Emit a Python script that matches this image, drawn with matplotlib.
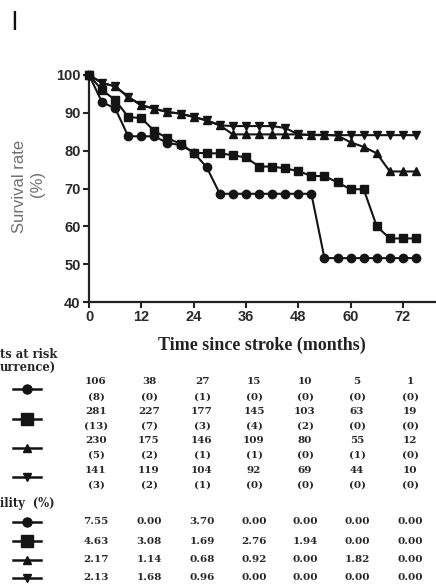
import matplotlib
matplotlib.use("Agg")
import matplotlib.pyplot as plt

# Follow-up grid (months) and survival (%) for the four groups
months = [0, 3, 6, 9, 12, 15, 18, 21, 24, 27, 30, 33, 36, 39, 42, 45, 48,
          51, 54, 57, 60, 63, 66, 69, 72, 75]
surv_circle = [100, 92.8, 91.2, 83.8, 83.8, 83.8, 82.0, 81.5, 79.5, 75.6,
               68.6, 68.6, 68.6, 68.6, 68.6, 68.6, 68.6, 68.6,
               51.6, 51.6, 51.6, 51.6, 51.6, 51.6, 51.6, 51.6]
surv_square = [100, 96.0, 93.4, 88.9, 88.6, 85.2, 83.3, 81.8, 79.5, 79.3,
               79.3, 78.8, 78.2, 75.8, 75.8, 75.3, 74.6, 73.3, 73.3, 71.6,
               69.8, 69.8, 60.0, 56.8, 56.8, 56.8]
surv_up = [100, 97.9, 97.0, 94.2, 92.0, 91.1, 90.2, 89.8, 88.9, 88.0,
           86.7, 84.3, 84.3, 84.3, 84.3, 84.3, 84.3, 84.2, 84.2, 84.0,
           82.2, 81.0, 79.3, 74.5, 74.5, 74.5]
surv_down = [100, 97.9, 97.0, 94.2, 92.0, 91.1, 90.2, 89.8, 88.9, 88.0,
             86.7, 86.5, 86.5, 86.5, 86.5, 86.0, 84.3, 84.1, 84.1, 84.1,
             84.1, 84.1, 84.1, 84.1, 84.1, 84.1]

x_ticks = [0, 12, 24, 36, 48, 60, 72]
y_ticks = [40, 50, 60, 70, 80, 90, 100]

# Numbers at risk (recurrences in brackets) and recurrence probability
risk_circle = ["106", "38", "27", "15", "10", "5", "1"]
rec_circle = ["(8)", "(0)", "(1)", "(0)", "(0)", "(0)", "(0)"]
risk_square = ["281", "227", "177", "145", "103", "63", "19"]
rec_square = ["(13)", "(7)", "(3)", "(4)", "(2)", "(0)", "(0)"]
risk_up = ["230", "175", "146", "109", "80", "55", "12"]
rec_up = ["(5)", "(2)", "(1)", "(1)", "(0)", "(1)", "(0)"]
risk_down = ["141", "119", "104", "92", "69", "44", "10"]
rec_down = ["(3)", "(2)", "(1)", "(0)", "(0)", "(0)", "(0)"]
prob_circle = ["7.55", "0.00", "3.70", "0.00", "0.00", "0.00", "0.00"]
prob_square = ["4.63", "3.08", "1.69", "2.76", "1.94", "0.00", "0.00"]
prob_up = ["2.17", "1.14", "0.68", "0.92", "0.00", "1.82", "0.00"]
prob_down = ["2.13", "1.68", "0.96", "0.00", "0.00", "0.00", "0.00"]

W, H = 436, 587
fig = plt.figure(figsize=(W / 100, H / 100), dpi=100)
fig.patch.set_facecolor("white")

INK = "#141414"
SANS = "Liberation Sans"
SERIF = "Liberation Serif"
TABLE_FONT = "DejaVu Serif"

# Overlay in pixel coordinates for the table and free text
ov = fig.add_axes([0, 0, 1, 1], zorder=0)
ov.set_xlim(0, W)
ov.set_ylim(H, 0)
ov.axis("off")
ov.patch.set_alpha(0)

# Main survival plot
px_per_month = 4.36
ax = fig.add_axes([89 / W, (H - 302) / H, (W - 89) / W, 227 / H], zorder=1)
ax.patch.set_alpha(0)
ax.set_xlim(0, (W - 89) / px_per_month)
ax.set_ylim(40, 100)

styles = [
    (surv_circle, "o", 6.0),
    (surv_square, "s", 5.6),
    (surv_up, "^", 5.2),
    (surv_down, "v", 5.2),
]
for vals, mk, ms in styles:
    ax.plot(months, vals, color=INK, lw=1.5, marker=mk, ms=ms,
            mfc=INK, mec=INK, clip_on=False, zorder=3)

for side in ("top", "right"):
    ax.spines[side].set_visible(False)
for side in ("left", "bottom"):
    ax.spines[side].set_linewidth(1.6)
    ax.spines[side].set_color("#222222")

ax.set_xticks(x_ticks)
ax.set_yticks(y_ticks)
ax.tick_params(direction="out", length=4, width=1.5, color="#222222",
               labelsize=10.5, pad=2, labelcolor="#2a2a2a")
for lab in ax.get_xticklabels() + ax.get_yticklabels():
    lab.set_fontfamily(SANS)
    lab.set_fontweight("bold")

# Axis titles
ov.text(262, 345, "Time since stroke (months)", ha="center", va="center",
        fontsize=13, fontweight="bold", family=SERIF, color="#222222")
ov.text(19, 186, "Survival rate", rotation=90, ha="center", va="center",
        fontsize=12, family=SANS, color="#707070")
ov.text(37, 184, "(%)", rotation=90, ha="center", va="center",
        fontsize=12, family=SANS, color="#707070")

# Panel letter
ov.text(14, 23, "l", ha="center", va="center", fontsize=19, family=SANS,
        color="#111111")

# Risk table
col_x = [96, 149, 202, 254, 305, 357, 410]
tkw = dict(ha="center", va="center", fontsize=7.5, fontweight="bold",
           family=TABLE_FONT, color="#262626")
hkw = dict(ha="left", va="center", fontsize=8.3, fontweight="bold",
           family=TABLE_FONT, color="#262626")

ov.text(0, 354, "ts at risk", **hkw)
ov.text(0, 368, "urrence)", **hkw)

risk_rows = [
    (risk_circle, rec_circle, "o", 6.5),
    (risk_square, rec_square, "s", 8.0),
    (risk_up, rec_up, "^", 5.2),
    (risk_down, rec_down, "v", 6.0),
]
row_y0, row_step = 382, 14.67
for i, (risk, rec, mk, ms) in enumerate(risk_rows):
    y_top = row_y0 + 2 * i * row_step
    y_bot = y_top + row_step
    for x, a, b in zip(col_x, risk, rec):
        ov.text(x, y_top, a, **tkw)
        ov.text(x, y_bot, b, **tkw)
    ym = (y_top + y_bot) / 2
    ov.plot([13, 41], [ym, ym], color=INK, lw=1.8)
    ov.plot([27], [ym], marker=mk, ms=ms, color=INK)

ov.text(0, 503, "ility  (%)", **hkw)

prob_rows = [
    (prob_circle, "o", 6.5),
    (prob_square, "s", 8.0),
    (prob_up, "^", 5.2),
    (prob_down, "v", 6.0),
]
prob_y = [522, 541, 560, 578]
for (vals, mk, ms), y in zip(prob_rows, prob_y):
    for x, v in zip(col_x, vals):
        ov.text(x, y, v, **tkw)
    ov.plot([13, 41], [y, y], color=INK, lw=1.8)
    ov.plot([27], [y], marker=mk, ms=ms, color=INK)

fig.savefig("out.png", dpi=100, facecolor="white")
